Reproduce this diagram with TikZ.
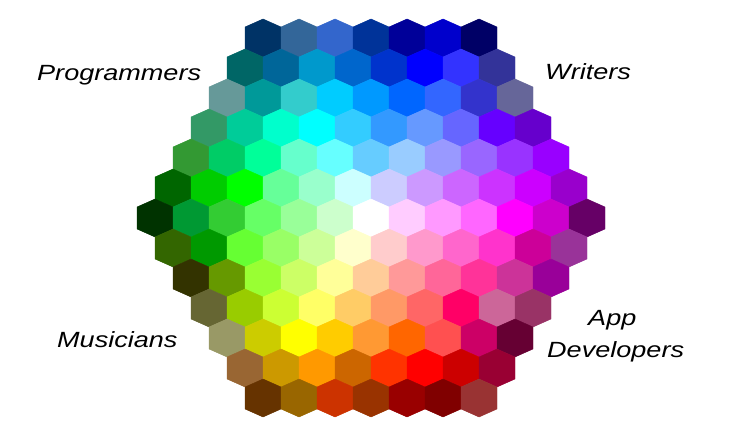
\documentclass[tikz,border=0pt]{standalone}
\usepackage{fontspec}
\setmainfont{Liberation Sans}
\tikzset{
  lbl/.style={anchor=base west, inner sep=0pt, font=\itshape\fontsize{22}{26}\selectfont, text=black}
}
\newcommand{\wide}[1]{\scalebox{1.23}[1]{#1}}
\newcommand{\hexrow}[2]{%
  \pgfmathsetmacro{\nn}{13-abs(#1-6)}%
  \pgfmathsetmacro{\xo}{371-(\nn-1)*18}%
  \pgfmathsetmacro{\yc}{-(38+30*#1)}%
  \foreach \hx [count=\ii from 0] in {#2} {%
    \edef\mkcol{\noexpand\definecolor{cellcol}{HTML}{\hx}}\mkcol
    \pgfmathsetmacro{\xc}{\xo+36*\ii}%
    \fill[cellcol, draw=cellcol, line width=0.4pt]
      (\xc,\yc+19) -- (\xc+18,\yc+11) -- (\xc+18,\yc-11) -- (\xc,\yc-19)
      -- (\xc-18,\yc-11) -- (\xc-18,\yc+11) -- cycle;
  }%
}
\begin{document}
\begin{tikzpicture}[x=1pt,y=1pt]
\useasboundingbox (0,0) rectangle (747,-430);
\fill[white] (0,0) rectangle (747,-430);
\hexrow{0}{003366,336699,3366CC,003399,000099,0000CC,000066}
\hexrow{1}{006666,006699,0099CC,0066CC,0033CC,0000FF,3333FF,333399}
\hexrow{2}{669999,009999,33CCCC,00CCFF,0099FF,0066FF,3366FF,3333CC,666699}
\hexrow{3}{339966,00CC99,00FFCC,00FFFF,33CCFF,3399FF,6699FF,6666FF,6600FF,6600CC}
\hexrow{4}{339933,00CC66,00FF99,66FFCC,66FFFF,66CCFF,99CCFF,9999FF,9966FF,9933FF,9900FF}
\hexrow{5}{006600,00CC00,00FF00,66FF99,99FFCC,CCFFFF,CCCCFF,CC99FF,CC66FF,CC33FF,CC00FF,9900CC}
\hexrow{6}{003300,009933,33CC33,66FF66,99FF99,CCFFCC,FFFFFF,FFCCFF,FF99FF,FF66FF,FF00FF,CC00CC,660066}
\hexrow{7}{336600,009900,66FF33,99FF66,CCFF99,FFFFCC,FFCCCC,FF99CC,FF66CC,FF33CC,CC0099,993399}
\hexrow{8}{333300,669900,99FF33,CCFF66,FFFF99,FFCC99,FF9999,FF6699,FF3399,CC3399,990099}
\hexrow{9}{666633,99CC00,CCFF33,FFFF66,FFCC66,FF9966,FF6666,FF0066,CC6699,993366}
\hexrow{10}{999966,CCCC00,FFFF00,FFCC00,FF9933,FF6600,FF5050,CC0066,660033}
\hexrow{11}{996633,CC9900,FF9900,CC6600,FF3300,FF0000,CC0000,990033}
\hexrow{12}{663300,996600,CC3300,993300,990000,800000,993333}
\node[lbl] (prog) at (37,-81) {\wide{Programmers}};
\node[lbl] (writ) at (545,-80) {\wide{Writers}};
\node[lbl] (mus) at (57,-347) {\wide{Musicians}};
\node[lbl] (app) at (588,-326) {\wide{App}};
\node[lbl] (dev) at (547,-357) {\wide{Developers}};
\end{tikzpicture}
\end{document}
